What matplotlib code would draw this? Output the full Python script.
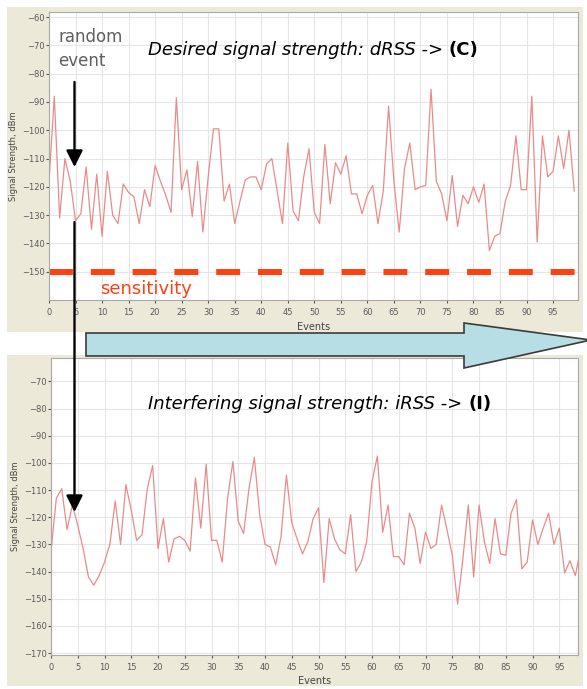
import numpy as np
import matplotlib.pyplot as plt
from matplotlib.patches import Rectangle, Polygon

# Signal strength per event (dBm)
events = np.arange(100)
drss = [-118, -88, -131, -110, -118, -132, -129.5, -113, -135, -115.5,
        -137.5, -114.5, -130, -133, -119, -122, -123.5, -133, -121, -127,
        -112.5, -118, -123, -129, -88.5, -121, -114, -130.5, -111, -136,
        -116.5, -99.5, -99.5, -125, -119, -133, -125, -117.5, -116.5, -116.5,
        -121, -112, -110, -121.5, -133, -104.5, -128.5, -132, -116.5, -106.5,
        -129, -133, -105, -126, -111.5, -115.5, -109, -122.5, -122.5, -129.5,
        -123, -119.5, -133, -121.5, -91.5, -118, -136, -113.5, -104.5, -121,
        -120, -119.5, -85.5, -118, -122.5, -132, -116, -134, -123, -126,
        -120, -125.5, -119, -142.5, -137.5, -136.5, -125, -119.5, -102, -121,
        -121, -88, -139.5, -102, -116.5, -114.5, -102, -113.5, -100, -121.5]
irss = [-132.5, -113, -109.5, -124.5, -115.5, -123, -131.5, -142, -145, -141.5,
        -136.5, -130, -114, -130, -108, -117.5, -128.5, -126.5, -109.5, -101,
        -131.5, -120.5, -136.5, -128, -127, -128.5, -132.5, -105.5, -124, -100.5,
        -128.5, -128.5, -136.5, -113, -99.5, -121.5, -126, -109.5, -98, -119,
        -130, -131, -137.5, -127, -104.5, -122, -128, -133.5, -129, -120.5,
        -116.5, -144, -120.5, -128, -132, -133.5, -119, -140, -136.5, -129,
        -107, -97.5, -125.5, -115.5, -134.5, -134.5, -137.5, -118.5, -124, -137,
        -125.5, -131.5, -130, -115.5, -124.5, -134, -152, -135, -115.5, -142,
        -115.5, -129, -137, -120.5, -133.5, -134, -118.5, -113.5, -139, -136.5,
        -121, -130, -124, -118.5, -130, -124, -140.5, -136, -141.5, -131.5]
sensitivity = -150
xticks = np.arange(0, 100, 5)
yticks_top = np.arange(-150, -59, 10)
yticks_bot = np.arange(-170, -69, 10)

W, H = 587, 689
fig = plt.figure(figsize=(W / 100, H / 100), dpi=100)
fig.patch.set_facecolor('white')

def box(l, t, r, b):
    return [l / W, 1 - b / H, (r - l) / W, (b - t) / H]

fam = ['DejaVu Sans']

# beige window panels behind the charts
bg = fig.add_axes([0, 0, 1, 1], zorder=0)
bg.set_xlim(0, W); bg.set_ylim(H, 0); bg.axis('off')
for top, bot in [(7, 332), (355, 686)]:
    bg.add_patch(Rectangle((7, top), 576, bot - top, fc='#ECE9D8', ec='none'))

def style(ax, xmax, ylim, yt):
    ax.set_xlim(0, xmax)
    ax.set_ylim(*ylim)
    ax.set_xticks(xticks)
    ax.set_yticks(yt)
    ax.grid(True, color='#E6E6E6', lw=0.8)
    ax.set_axisbelow(True)
    ax.tick_params(axis='both', labelsize=6, colors='#5A5A5A', length=2)
    ax.tick_params(axis='x', pad=4)
    ax.tick_params(axis='y', pad=1)
    for s in ax.spines.values():
        s.set_color('#A8A8A8')
        s.set_linewidth(0.8)
    ax.set_xlabel('Events', fontsize=7, color='#444444', labelpad=3)
    ax.set_ylabel('Signal Strength, dBm', fontsize=6, color='#444444', labelpad=3)

ax1 = fig.add_axes(box(49, 12, 578, 300), zorder=1)
ax1.plot(events, drss, color='#E98B8B', lw=0.9)
ax1.axhline(sensitivity, color='#FF4010', lw=4.3, ls=(0, (4, 3)))
style(ax1, 99.7, (-160, -58.2), yticks_top)

ax2 = fig.add_axes(box(51, 358, 578, 655), zorder=1)
ax2.plot(events, irss, color='#E98B8B', lw=0.9)
style(ax2, 98.5, (-170.7, -61.4), yticks_bot)

# annotations on top
ov = fig.add_axes([0, 0, 1, 1], zorder=5)
ov.set_xlim(0, W); ov.set_ylim(H, 0); ov.axis('off')

ov.add_patch(Polygon([(86, 333), (464, 333), (464, 323), (591, 340),
                      (464, 368), (464, 356), (86, 356)],
                     closed=True, fc='#B6DEE4', ec='#3A3A3A', lw=1.2))

ov.text(58, 42, 'random', fontsize=12, color='#606060', family=fam, va='baseline')
ov.text(58, 66, 'event', fontsize=12, color='#606060', family=fam, va='baseline')

arr = dict(arrowstyle='-|>,head_length=1.0,head_width=0.5', color='black',
           lw=1.7, shrinkA=0, shrinkB=0)
ov.annotate('', xy=(74.5, 167), xytext=(74.5, 82), arrowprops=arr)
ov.annotate('', xy=(74.5, 512), xytext=(74.5, 222), arrowprops=arr)

t1 = ov.text(148, 55, 'Desired signal strength: dRSS -> ', fontsize=13,
             style='italic', family=fam, va='baseline')
ov.annotate('(C)', xy=(1, 0), xycoords=t1, fontsize=13, fontweight='bold',
            family=fam, va='bottom')
t2 = ov.text(148, 409, 'Interfering signal strength: iRSS -> ', fontsize=13,
             style='italic', family=fam, va='baseline')
ov.annotate('(I)', xy=(1, 0), xycoords=t2, fontsize=13, fontweight='bold',
            family=fam, va='bottom')

ov.text(100, 294, 'sensitivity', fontsize=13, color='#FF4010', family=fam,
        va='baseline')

fig.savefig('out.png', dpi=100)
